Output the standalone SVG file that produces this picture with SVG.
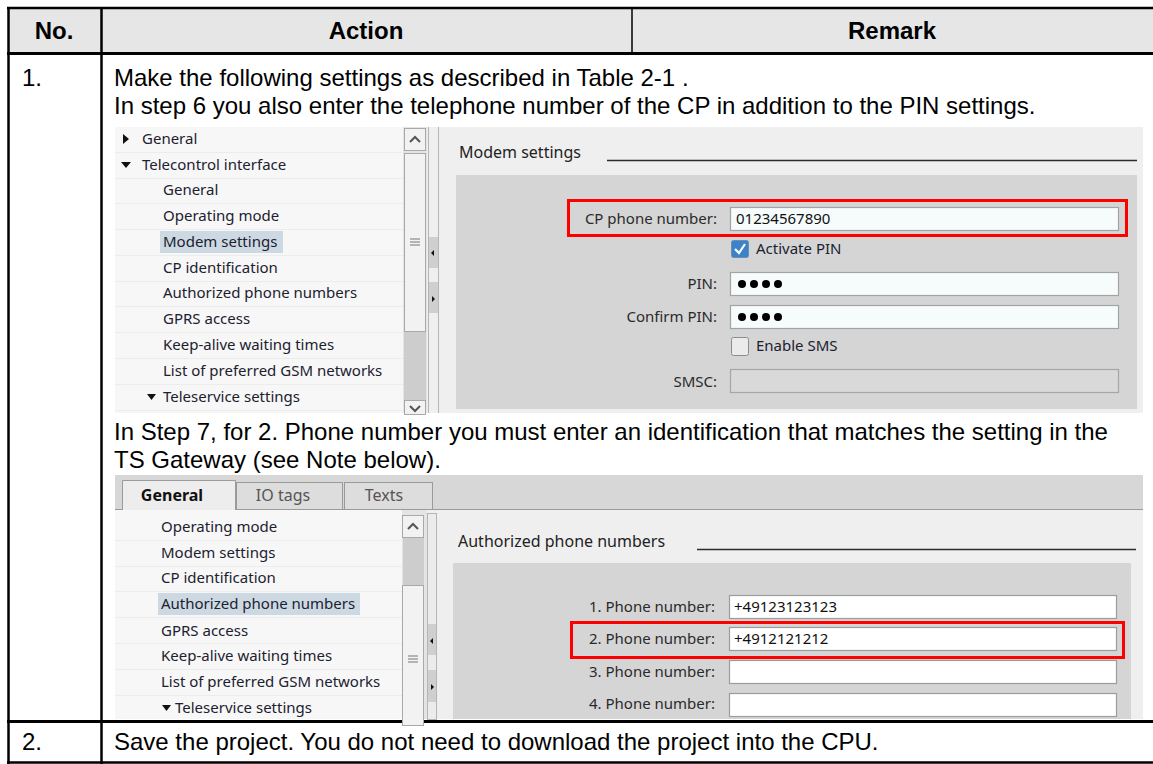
<svg xmlns="http://www.w3.org/2000/svg" width="1153" height="764" viewBox="0 0 1153 764">
<defs>
<style>
.doc{font-family:"Liberation Sans",Arial,sans-serif;font-size:24px;fill:#000}
.hd{font-family:"Liberation Sans",Arial,sans-serif;font-size:24px;font-weight:bold;fill:#000}
.ui{font-family:"Noto Sans","Open Sans",sans-serif;font-size:15px;fill:#1c2130}
.uit{font-family:"Noto Sans","Open Sans",sans-serif;font-size:16px;fill:#222}
.lbl{font-family:"Noto Sans","Open Sans",sans-serif;font-size:15px;fill:#2a2a2a;text-anchor:end}
.val{font-family:"Noto Sans","Open Sans",sans-serif;font-size:15px;fill:#111}
.grid{stroke:#000;fill:none}
.inp{fill:#f6fcfc;stroke:#a3a3a3;stroke-width:1.2}
.inpw{fill:#ffffff;stroke:#9c9c9c;stroke-width:1.2}
.red{fill:none;stroke:#ff0000;stroke-width:3}
.sep{stroke:#ececec;stroke-width:1}
.sbb{fill:#f2f2f2;stroke:#a9a9a9;stroke-width:1}
.sbt{fill:#cdcdcd}
.dot{fill:#000}
</style>
</defs>

<g id="table">
<rect x="8" y="8" width="1145" height="45" fill="#e6e6e6"/>
<line class="grid" x1="7" y1="8" x2="1153" y2="8" stroke-width="2.5"/>
<line class="grid" x1="7" y1="53.5" x2="1153" y2="53.5" stroke-width="3"/>
<line class="grid" x1="7" y1="721.5" x2="1153" y2="721.5" stroke-width="3"/>
<line class="grid" x1="7" y1="762.5" x2="1153" y2="762.5" stroke-width="2.5"/>
<line class="grid" x1="8.5" y1="7" x2="8.5" y2="764" stroke-width="2.5"/>
<line class="grid" x1="101.5" y1="7" x2="101.5" y2="764" stroke-width="2.5"/>
<line class="grid" x1="632" y1="7" x2="632" y2="53" stroke-width="1.5"/>
<text class="hd" x="54" y="39" text-anchor="middle">No.</text>
<text class="hd" x="366" y="39" text-anchor="middle">Action</text>
<text class="hd" x="892" y="39" text-anchor="middle">Remark</text>
<text class="doc" x="22" y="86">1.</text>
<text class="doc" x="114" y="86">Make the following settings as described in Table 2-1 .</text>
<text class="doc" x="114" y="114">In step 6 you also enter the telephone number of the CP in addition to the PIN settings.</text>
<text class="doc" x="114" y="440">In Step 7, for 2. Phone number you must enter an identification that matches the setting in the</text>
<text class="doc" x="114" y="468">TS Gateway (see Note below).</text>
<text class="doc" x="22" y="750">2.</text>
<text class="doc" x="114" y="750">Save the project. You do not need to download the project into the CPU.</text>
</g>

<g id="screenshot1">
<rect x="115" y="127" width="1028" height="286" fill="#efefef"/>
<g id="tree1">
<rect x="115" y="127" width="288" height="286" fill="#f7f7f7"/>
<g class="sep">
<line x1="115" y1="152.5" x2="403" y2="152.5"/><line x1="115" y1="178.5" x2="403" y2="178.5"/>
<line x1="115" y1="203.5" x2="403" y2="203.5"/><line x1="115" y1="229.5" x2="403" y2="229.5"/>
<line x1="115" y1="255.5" x2="403" y2="255.5"/><line x1="115" y1="281.5" x2="403" y2="281.5"/>
<line x1="115" y1="306.5" x2="403" y2="306.5"/><line x1="115" y1="332.5" x2="403" y2="332.5"/>
<line x1="115" y1="358.5" x2="403" y2="358.5"/><line x1="115" y1="384.5" x2="403" y2="384.5"/>
<line x1="115" y1="410.5" x2="403" y2="410.5"/>
</g>
<rect x="160" y="231" width="123" height="22" fill="#cdd9e2"/>
<polygon points="123,134 129,139 123,144" fill="#111"/>
<polygon points="121,162 131,162 126,168" fill="#111"/>
<polygon points="147,394 156,394 151.5,400" fill="#111"/>
<text class="ui" x="142" y="144">General</text>
<text class="ui" x="142" y="170">Telecontrol interface</text>
<text class="ui" x="163" y="195">General</text>
<text class="ui" x="163" y="221">Operating mode</text>
<text class="ui" x="163" y="247">Modem settings</text>
<text class="ui" x="163" y="273">CP identification</text>
<text class="ui" x="163" y="298">Authorized phone numbers</text>
<text class="ui" x="163" y="324">GPRS access</text>
<text class="ui" x="163" y="350">Keep-alive waiting times</text>
<text class="ui" x="163" y="376">List of preferred GSM networks</text>
<text class="ui" x="163" y="402">Teleservice settings</text>
</g>
<g id="scroll1">
<rect x="403" y="127" width="24" height="286" fill="#e4e4e4"/>
<rect class="sbt" x="404" y="332" width="22" height="68"/>
<rect class="sbb" x="404.5" y="128.5" width="21" height="22"/>
<polyline points="410,142 415,137 420,142" fill="none" stroke="#555" stroke-width="2"/>
<rect class="sbb" x="404.5" y="153.5" width="21" height="178"/>
<line x1="410" y1="239" x2="420" y2="239" stroke="#777"/><line x1="410" y1="242" x2="420" y2="242" stroke="#777"/><line x1="410" y1="245" x2="420" y2="245" stroke="#777"/>
<rect class="sbb" x="404.5" y="400.5" width="21" height="14"/>
<polyline points="410,406 415,411 420,406" fill="none" stroke="#555" stroke-width="2"/>
<line x1="428.5" y1="127" x2="428.5" y2="413" stroke="#b5b5b5"/>
<line x1="438.5" y1="127" x2="438.5" y2="413" stroke="#b5b5b5"/>
<rect x="429" y="237" width="9" height="31" fill="#cfcfcf"/>
<polygon points="434,250 431,253 434,256" fill="#111"/>
<rect x="429" y="282" width="9" height="31" fill="#cfcfcf"/>
<polygon points="432,296 435,299 432,302" fill="#111"/>
</g>
<g id="modem-panel">
<text class="uit" x="459" y="158">Modem settings</text>
<line x1="607" y1="160.5" x2="1137" y2="160.5" stroke="#2b2b2b" stroke-width="1.5"/>
<rect x="456" y="175" width="681" height="234" fill="#d5d5d5"/>
<rect class="inp" x="730.5" y="207.5" width="388" height="23"/>
<text class="lbl" x="717" y="224">CP phone number:</text>
<text class="val" x="736" y="224">01234567890</text>
<rect class="red" x="568.5" y="200.5" width="558" height="35"/>
<rect x="731.5" y="240.5" width="17" height="17" rx="2" fill="#3c82c8" stroke="#6a8fb5"/>
<polyline points="735,249 739,253 745,244" fill="none" stroke="#fff" stroke-width="2.2"/>
<text class="ui" x="756" y="254" fill="#2a2a2a">Activate PIN</text>
<text class="lbl" x="717" y="289">PIN:</text>
<rect class="inp" x="730.5" y="272.5" width="388" height="23"/>
<circle class="dot" cx="742" cy="284" r="4"/><circle class="dot" cx="754" cy="284" r="4"/><circle class="dot" cx="766" cy="284" r="4"/><circle class="dot" cx="778" cy="284" r="4"/>
<text class="lbl" x="717" y="322">Confirm PIN:</text>
<rect class="inp" x="730.5" y="305.5" width="388" height="23"/>
<circle class="dot" cx="742" cy="317" r="4"/><circle class="dot" cx="754" cy="317" r="4"/><circle class="dot" cx="766" cy="317" r="4"/><circle class="dot" cx="778" cy="317" r="4"/>
<rect x="731.5" y="337.5" width="17" height="18" rx="2" fill="#ebebeb" stroke="#8c8c8c"/>
<text class="ui" x="756" y="351" fill="#2a2a2a">Enable SMS</text>
<text class="lbl" x="717" y="387" fill="#a3a3a3">SMSC:</text>
<rect x="730.5" y="369.5" width="388" height="23" fill="#d9d9d9" stroke="#a6a6a6" stroke-width="1.2"/>
</g>
</g>

<g id="screenshot2">
<rect x="115" y="475" width="1028" height="244" fill="#efefef"/>
<g id="tabs">
<rect x="115" y="475" width="1028" height="34" fill="#d7d7d7"/>
<line x1="115" y1="509.5" x2="1143" y2="509.5" stroke="#9a9a9a"/>
<rect x="236.5" y="482.5" width="106" height="27" fill="#dddddd" stroke="#9a9a9a"/>
<rect x="344.5" y="482.5" width="88" height="27" fill="#dddddd" stroke="#9a9a9a"/>
<path d="M122.5,510 V480.5 H235.5 V510" fill="#ededed" stroke="#9a9a9a"/>
<text x="172" y="501" text-anchor="middle" style="font-family:'Noto Sans','Open Sans',sans-serif;font-size:16px;font-weight:bold;fill:#111">General</text>
<text x="283" y="501" text-anchor="middle" style="font-family:'Noto Sans','Open Sans',sans-serif;font-size:16px;fill:#555">IO tags</text>
<text x="384" y="501" text-anchor="middle" style="font-family:'Noto Sans','Open Sans',sans-serif;font-size:16px;fill:#555">Texts</text>
</g>
<g id="tree2">
<rect x="115" y="510" width="287" height="209" fill="#f7f7f7"/>
<g class="sep">
<line x1="115" y1="540.5" x2="402" y2="540.5"/><line x1="115" y1="566.5" x2="402" y2="566.5"/>
<line x1="115" y1="591.5" x2="402" y2="591.5"/><line x1="115" y1="617.5" x2="402" y2="617.5"/>
<line x1="115" y1="643.5" x2="402" y2="643.5"/><line x1="115" y1="669.5" x2="402" y2="669.5"/>
<line x1="115" y1="695.5" x2="402" y2="695.5"/>
</g>
<rect x="158" y="593" width="202" height="22" fill="#cdd9e2"/>
<polygon points="162,705 171,705 166.5,711" fill="#111"/>
<text class="ui" x="161" y="532">Operating mode</text>
<text class="ui" x="161" y="558">Modem settings</text>
<text class="ui" x="161" y="583">CP identification</text>
<text class="ui" x="161" y="609">Authorized phone numbers</text>
<text class="ui" x="161" y="636">GPRS access</text>
<text class="ui" x="161" y="661">Keep-alive waiting times</text>
<text class="ui" x="161" y="687">List of preferred GSM networks</text>
<text class="ui" x="175" y="713">Teleservice settings</text>
</g>
<g id="scroll2">
<rect x="402" y="510" width="25" height="209" fill="#e4e4e4"/>
<rect class="sbt" x="403" y="538" width="21" height="47"/>
<rect class="sbb" x="402.5" y="515.5" width="21" height="22"/>
<polyline points="408,529 413,524 418,529" fill="none" stroke="#555" stroke-width="2"/>
<rect class="sbb" x="402.5" y="585.5" width="21" height="140"/>
<line x1="408" y1="656" x2="418" y2="656" stroke="#777"/><line x1="408" y1="659" x2="418" y2="659" stroke="#777"/><line x1="408" y1="662" x2="418" y2="662" stroke="#777"/>
<rect x="427.5" y="513.5" width="9" height="206" fill="#ececec" stroke="#b5b5b5"/>
<rect x="428" y="624" width="8" height="31" fill="#cfcfcf"/>
<polygon points="433,638 430,641 433,644" fill="#111"/>
<rect x="428" y="670" width="8" height="32" fill="#cfcfcf"/>
<polygon points="431,684 434,687 431,690" fill="#111"/>
</g>
<g id="phone-panel">
<text class="uit" x="458" y="547">Authorized phone numbers</text>
<line x1="697" y1="549.5" x2="1136" y2="549.5" stroke="#2b2b2b" stroke-width="1.5"/>
<rect x="453" y="563" width="678" height="156" fill="#d5d5d5"/>
<text class="lbl" x="715" y="612">1. Phone number:</text>
<rect class="inpw" x="729.5" y="595.5" width="387" height="23"/>
<text class="val" x="734" y="612">+49123123123</text>
<text class="lbl" x="715" y="644">2. Phone number:</text>
<rect class="inpw" x="729.5" y="627.5" width="387" height="23"/>
<text class="val" x="734" y="644">+4912121212</text>
<rect class="red" x="571.5" y="622.5" width="552" height="35"/>
<text class="lbl" x="715" y="677">3. Phone number:</text>
<rect class="inpw" x="729.5" y="660.5" width="387" height="23"/>
<text class="lbl" x="715" y="709">4. Phone number:</text>
<rect class="inpw" x="729.5" y="693.5" width="387" height="23"/>
</g>
</g>
</svg>
